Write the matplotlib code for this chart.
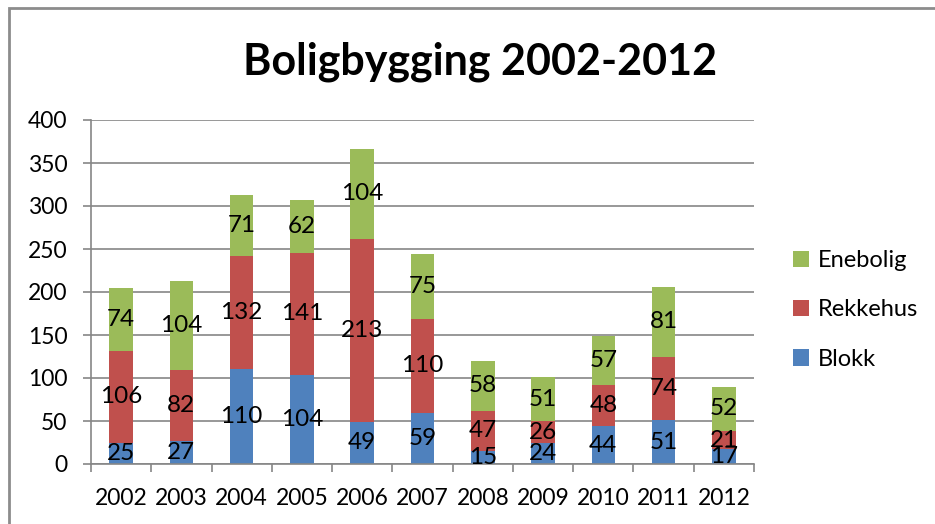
import numpy as np
import matplotlib
matplotlib.use('Agg')
import matplotlib.pyplot as plt
from matplotlib.patches import Rectangle

plt.rcParams['font.family'] = ['Lato', 'DejaVu Sans']

years = ['2002', '2003', '2004', '2005', '2006', '2007', '2008', '2009', '2010', '2011', '2012']
blokk = [25, 27, 110, 104, 49, 59, 15, 24, 44, 51, 17]
rekkehus = [106, 82, 132, 141, 213, 110, 47, 26, 48, 74, 21]
enebolig = [74, 104, 71, 62, 104, 75, 58, 51, 57, 81, 52]

C_BLOKK = '#4F81BD'
C_REKK = '#C0504D'
C_ENE = '#9BBB59'
GRID = '#868686'

W, H = 935, 524
fig = plt.figure(figsize=(W / 100, H / 100), dpi=100, facecolor='white')

# outer chart frame (right/bottom edges fall outside the crop)
fig.patches.append(Rectangle((9 / W, -0.05), 1.2, 1 - 8 / H + 0.05, transform=fig.transFigure,
                             fill=False, edgecolor='#8c8c8c', lw=2))

ax = fig.add_axes([91 / W, 1 - 464 / H, (754 - 91) / W, (464 - 120) / H])
x = np.arange(len(years))
bw = 0.39
b1 = np.array(blokk)
b2 = b1 + np.array(rekkehus)

ax.bar(x, blokk, bw, color=C_BLOKK, label='Blokk', zorder=2)
ax.bar(x, rekkehus, bw, bottom=b1, color=C_REKK, label='Rekkehus', zorder=2)
ax.bar(x, enebolig, bw, bottom=b2, color=C_ENE, label='Enebolig', zorder=2)

LBL = 17.5
for i in range(len(years)):
    ax.text(x[i], blokk[i] / 2, str(blokk[i]), ha='center', va='center', fontsize=LBL, zorder=3)
    ax.text(x[i], b1[i] + rekkehus[i] / 2, str(rekkehus[i]), ha='center', va='center', fontsize=LBL, zorder=3)
    ax.text(x[i], b2[i] + enebolig[i] / 2, str(enebolig[i]), ha='center', va='center', fontsize=LBL, zorder=3)

ax.set_xlim(-0.5, len(years) - 0.5)
ax.set_ylim(0, 400)
ax.set_yticks(np.arange(0, 401, 50))
ax.yaxis.grid(True, color=GRID, lw=1.2, zorder=0)
ax.set_axisbelow(True)
ax.set_xticks(x)
ax.set_xticklabels(years)
ax.set_xticks(np.arange(-0.5, len(years)), minor=True)
ax.tick_params(axis='x', which='major', length=0, pad=17, labelsize=16.5)
ax.tick_params(axis='x', which='minor', length=6, width=1.2, color=GRID, direction='out')
ax.tick_params(axis='y', length=6, width=1.2, color=GRID, pad=11, labelsize=16.5)
for s in ['top', 'right']:
    ax.spines[s].set_visible(False)
for s in ['left', 'bottom']:
    ax.spines[s].set_color(GRID)
    ax.spines[s].set_linewidth(1.2)

fig.text(480 / W, 1 - 62 / H, 'Boligbygging 2002-2012', ha='center', va='center',
         fontsize=31, fontweight='bold')

handles, labels = ax.get_legend_handles_labels()
leg = fig.legend(handles[::-1], labels[::-1], loc='center left', bbox_to_anchor=(781 / W, 1 - 310 / H),
                 frameon=False, fontsize=17, handlelength=0.68, handleheight=0.68,
                 handletextpad=0.4, labelspacing=1.2, borderpad=0)

fig.savefig('out.png', dpi=100, facecolor='white')
